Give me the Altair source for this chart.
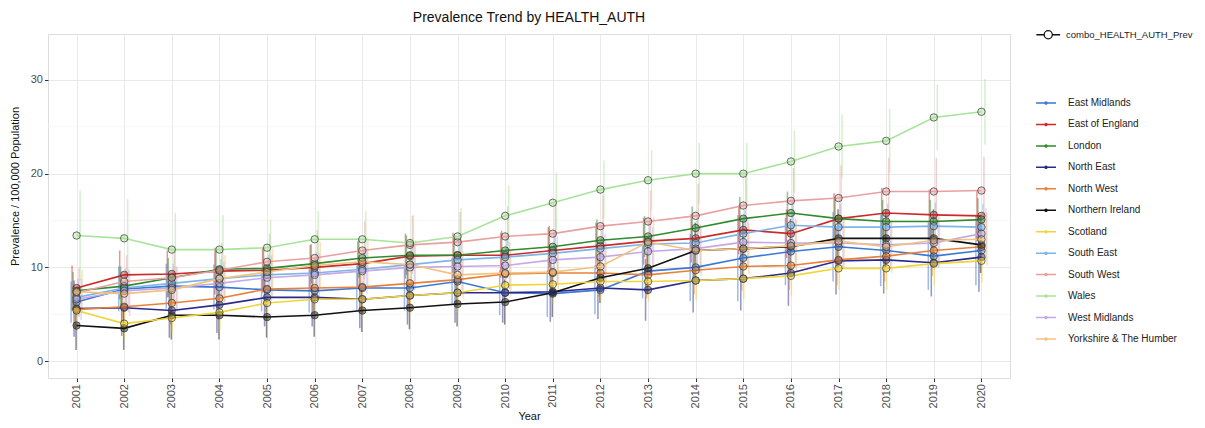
import altair as alt
import pandas as pd

years = list(range(2001, 2021))

regions = [
    "East Midlands", "East of England", "London", "North East", "North West",
    "Northern Ireland", "Scotland", "South East", "South West", "Wales",
    "West Midlands", "Yorkshire & The Humber",
]
colors = [
    "#3b78d6", "#cc2b2b", "#2e8b2e", "#2b2a8c", "#e8823a",
    "#111111", "#f0d43a", "#7db5e8", "#e8a0a0", "#a8e39a",
    "#c4a9e6", "#f2c27e",
]

east_midlands = [6.3, 7.7, 8.0, 7.9, 7.6, 7.5, 7.8, 7.8, 8.5, 7.3, 7.2, 7.6, 9.6, 10.0, 11.0, 11.7, 12.2, 11.8, 11.2, 11.8]
east_of_england = [7.8, 9.2, 9.3, 9.6, 9.7, 10.0, 10.4, 11.2, 11.3, 11.3, 11.8, 12.3, 12.8, 13.1, 14.0, 13.6, 15.2, 15.8, 15.6, 15.5]
london = [7.5, 8.0, 8.9, 9.8, 9.9, 10.4, 11.0, 11.3, 11.3, 11.8, 12.2, 12.9, 13.3, 14.2, 15.2, 15.8, 15.2, 14.9, 14.9, 15.1]
north_east = [5.6, 5.7, 5.4, 6.0, 6.8, 6.8, 6.6, 7.0, 7.3, 7.3, 7.4, 7.8, 7.6, 8.6, 8.8, 9.4, 10.7, 10.8, 10.5, 11.1]
north_west = [5.5, 5.8, 6.2, 6.7, 7.7, 7.8, 7.9, 8.3, 8.7, 9.3, 9.4, 9.4, 9.2, 9.7, 10.1, 10.2, 10.8, 11.2, 11.8, 12.2]
northern_ireland = [3.8, 3.5, 4.9, 4.9, 4.7, 4.9, 5.4, 5.7, 6.1, 6.3, 7.3, 8.9, 9.9, 11.8, 12.0, 12.2, 13.1, 13.1, 13.1, 12.4]
scotland = [5.4, 4.0, 4.6, 5.2, 6.2, 6.6, 6.6, 7.0, 7.3, 8.1, 8.2, 8.5, 8.5, 8.6, 8.8, 9.1, 9.9, 9.9, 10.4, 10.7]
south_east = [6.8, 7.8, 8.3, 8.8, 9.2, 9.4, 9.8, 10.3, 10.8, 11.1, 11.5, 12.0, 12.5, 12.6, 13.6, 14.5, 14.3, 14.3, 14.4, 14.3]
south_west = [7.3, 8.5, 8.9, 9.7, 10.6, 11.0, 11.8, 12.4, 12.7, 13.3, 13.6, 14.4, 14.9, 15.5, 16.6, 17.1, 17.4, 18.1, 18.1, 18.2]
wales = [13.4, 13.1, 11.9, 11.9, 12.1, 13.0, 13.0, 12.6, 13.3, 15.5, 16.9, 18.3, 19.3, 20.0, 20.0, 21.3, 22.9, 23.5, 26.0, 26.6]
west_midlands = [6.6, 7.5, 7.8, 8.3, 8.9, 9.2, 9.6, 10.0, 10.1, 10.2, 10.8, 11.1, 11.7, 12.0, 12.7, 12.6, 12.6, 12.4, 12.6, 13.6]
yorkshire = [7.4, 7.2, 7.6, 8.8, 9.5, 10.2, 10.6, 10.3, 9.2, 9.4, 9.5, 10.1, 12.7, 11.8, 12.0, 12.3, 12.8, 12.2, 12.9, 13.0]

# half-widths of the vertical error bars
err_east_midlands = [2.2, 2.4, 2.4, 2.4, 2.3, 2.3, 2.4, 2.4, 2.5, 2.4, 2.5, 2.6, 2.9, 3.6, 4.6, 3.6, 3.7, 3.8, 3.6, 3.7]
err_east_of_england = [2.4, 2.6, 2.5, 2.5, 2.4, 2.4, 2.4, 2.4, 2.4, 2.4, 2.5, 2.5, 2.5, 2.6, 2.6, 2.6, 2.7, 2.7, 2.7, 2.7]
err_london = [2.0, 2.1, 2.1, 2.1, 2.1, 2.1, 2.1, 2.1, 2.1, 2.1, 2.2, 2.2, 2.2, 2.3, 2.3, 2.3, 2.3, 2.3, 2.3, 2.3]
err_north_east = [3.0, 3.0, 2.9, 3.0, 3.1, 3.1, 3.1, 3.1, 3.2, 3.2, 3.2, 3.3, 3.3, 3.4, 3.4, 3.5, 3.6, 3.6, 3.6, 3.7]
err_north_west = [2.2, 2.2, 2.3, 2.3, 2.4, 2.4, 2.4, 2.4, 2.5, 2.5, 2.5, 2.5, 2.5, 2.6, 2.6, 2.6, 2.7, 2.7, 2.7, 2.8]
err_northern_ireland = [2.6, 2.3, 2.6, 2.6, 2.2, 2.3, 2.3, 2.3, 2.4, 2.4, 2.6, 2.7, 2.8, 3.0, 3.0, 3.0, 3.1, 3.1, 3.1, 3.0]
err_scotland = [1.8, 1.6, 1.7, 1.8, 1.9, 1.9, 1.9, 2.0, 2.0, 2.1, 2.1, 2.1, 2.1, 2.1, 2.2, 2.2, 2.3, 2.3, 2.3, 2.3]
err_south_east = [2.0, 2.1, 2.1, 2.1, 2.2, 2.2, 2.2, 2.2, 2.3, 2.3, 2.3, 2.4, 2.4, 2.4, 2.5, 2.5, 2.5, 2.5, 2.5, 2.5]
err_south_west = [2.6, 2.8, 2.8, 2.9, 3.0, 3.0, 3.1, 3.1, 3.2, 3.2, 3.2, 3.3, 3.3, 3.4, 3.4, 3.5, 3.5, 3.6, 3.6, 3.6]
err_wales = [4.8, 4.2, 3.9, 3.7, 3.0, 3.0, 3.0, 3.0, 3.0, 3.2, 3.2, 3.1, 3.2, 3.3, 3.3, 3.3, 3.4, 3.4, 3.5, 3.5]
err_west_midlands = [2.2, 2.3, 2.3, 2.3, 2.4, 2.4, 2.4, 2.4, 2.5, 2.5, 2.5, 2.5, 2.6, 2.6, 2.6, 2.6, 2.6, 2.6, 2.7, 2.7]
err_yorkshire = [2.3, 2.4, 2.4, 2.5, 2.5, 2.5, 2.6, 2.6, 2.5, 2.5, 2.5, 2.6, 2.7, 2.7, 2.7, 2.7, 2.8, 2.8, 2.8, 2.8]

minor_grid = [5, 15, 25]
y_ticks = [0, 10, 20, 30]
combo_label = "combo_HEALTH_AUTH_Prev"
chart_title = "Prevalence Trend by HEALTH_AUTH"

series_values = [east_midlands, east_of_england, london, north_east, north_west,
                 northern_ireland, scotland, south_east, south_west, wales,
                 west_midlands, yorkshire]
series_errs = [err_east_midlands, err_east_of_england, err_london, err_north_east,
               err_north_west, err_northern_ireland, err_scotland, err_south_east,
               err_south_west, err_wales, err_west_midlands, err_yorkshire]

rows = []
for reg, vals, errs in zip(regions, series_values, series_errs):
    for yr, v, e in zip(years, vals, errs):
        rows.append({"year": yr, "region": reg, "prev": v,
                     "lo": round(v - e, 2), "hi": round(v + e, 2),
                     "combo": combo_label})
df = pd.DataFrame(rows)

FONT = "Liberation Sans"
W, H = 962, 344

yscale = alt.Scale(domain=[-1.8, 34.9], nice=False, zero=False)
xscale = alt.Scale(type="point", padding=0.6)
cscale = alt.Scale(domain=regions, range=colors)

x_enc = alt.X(
    "year:O", scale=xscale,
    axis=alt.Axis(
        title="Year", labelAngle=270, labelFontSize=11, labelFont=FONT,
        labelColor="#4d4d4d", labelPadding=2, tickSize=3.5, tickColor="#333333",
        domain=False, grid=True, gridColor="#e6e6e6", gridWidth=0.9,
        titleFont=FONT, titleFontSize=11, titleFontWeight="normal",
        titleColor="#111111", titleY=41, titleBaseline="alphabetic",
    ),
)

y_axis = alt.Axis(
    title="Prevalence / 100,000 Population", values=y_ticks,
    labelFontSize=11, labelFont=FONT, labelColor="#4d4d4d", labelPadding=2,
    tickSize=3.5, tickColor="#333333", domain=False, grid=True,
    gridColor="#e6e6e6", gridWidth=0.9,
    titleFont=FONT, titleFontSize=11, titleFontWeight="normal",
    titleColor="#111111", titleX=-28, titleY=152, titleAngle=270,
    titleAlign="center", titleBaseline="bottom",
)

legend_color = alt.Legend(
    title=None, orient="none", legendX=987, legendY=58,
    symbolType="M-1,0L1,0M-0.1,0A0.1,0.1,0,1,1,0.1,0A0.1,0.1,0,1,1,-0.1,0",
    symbolSize=400, symbolStrokeWidth=1.5, rowPadding=5.45, labelOffset=11,
    labelFont=FONT, labelFontSize=10, labelColor="#222222",
)

legend_combo = alt.Legend(
    title=None, orient="none", legendX=995.5, legendY=-4,
    symbolType="M-3.2,0L-1.1,0M1.1,0L3.2,0M-1.1,0A1.1,1.1,0,1,1,1.1,0A1.1,1.1,0,1,1,-1.1,0",
    symbolStrokeColor="#111111", symbolFillColor="#ffffff", symbolStrokeWidth=1.3,
    labelOffset=13, labelFont=FONT, labelFontSize=9.5, labelColor="#222222",
)

minor = alt.Chart(pd.DataFrame({"prev": minor_grid})).mark_rule(
    color="#f2f2f2", strokeWidth=0.7
).encode(y=alt.Y("prev:Q", scale=yscale, axis=y_axis))

title_layer = alt.Chart(pd.DataFrame({"t": [chart_title]})).mark_text(
    font=FONT, fontSize=14, color="#111111", align="center", baseline="alphabetic"
).encode(text="t:N", x=alt.value(W / 2), y=alt.value(-12))

base = alt.Chart(df)

errbars = base.mark_rule(strokeWidth=1.5, strokeOpacity=0.5).encode(
    x=x_enc,
    xOffset=alt.XOffset("region:N", scale=alt.Scale(domain=regions, range=[-6, 6])),
    y=alt.Y("lo:Q", scale=yscale, axis=y_axis),
    y2="hi:Q",
    color=alt.Color("region:N", scale=cscale, legend=legend_color),
)

lines = base.mark_line(strokeWidth=1.6).encode(
    x=x_enc,
    y=alt.Y("prev:Q", scale=yscale, axis=y_axis),
    color=alt.Color("region:N", scale=cscale, legend=legend_color),
)

points = base.mark_point(
    filled=True, stroke="#333333", strokeWidth=1, strokeOpacity=0.7, fillOpacity=0.45
).encode(
    x=x_enc,
    y=alt.Y("prev:Q", scale=yscale, axis=y_axis),
    fill=alt.Fill("region:N", scale=cscale, legend=None),
    size=alt.Size("combo:O", scale=alt.Scale(range=[55, 55]), legend=legend_combo),
)

chart = alt.layer(minor, errbars, lines, points, title_layer).properties(
    width=W, height=H,
    autosize=alt.AutoSizeParams(type="none"),
    padding={"left": 40, "top": 26, "right": 187, "bottom": 42},
).configure_view(
    stroke="#8c8c8c", strokeWidth=1
).configure(
    background="white"
)

chart.save("out.html", embed_options={"renderer": "svg", "actions": False})
